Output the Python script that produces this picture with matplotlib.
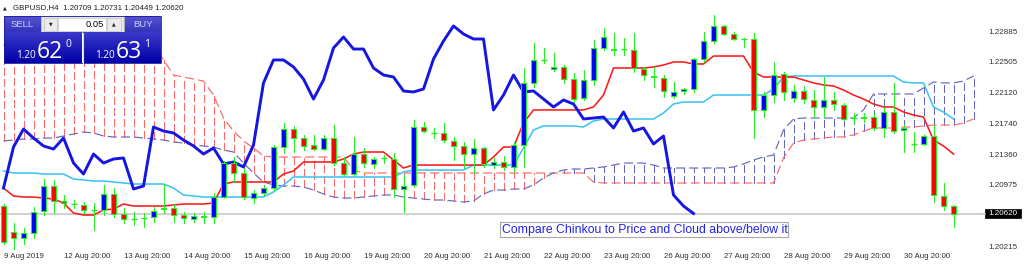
import matplotlib
matplotlib.use('Agg')
import matplotlib.pyplot as plt
from matplotlib.patches import Rectangle
import numpy as np

plt.rcParams['font.family'] = ['Liberation Sans', 'DejaVu Sans']
plt.rcParams['lines.scale_dashes'] = False

# ---------------- data (GBPUSD H4) ----------------
opens = [1.20713, 1.20390, 1.20315, 1.20378, 1.20651, 1.20962, 1.20776, 1.20738, 1.20726, 1.20664,
         1.20664, 1.20863, 1.20614, 1.20552, 1.20564, 1.20577, 1.20676, 1.20689, 1.20601, 1.20552,
         1.20589, 1.20577, 1.20825, 1.21248, 1.21124, 1.20813, 1.20875, 1.20937, 1.21447, 1.21671,
         1.21559, 1.21472, 1.21422, 1.21559, 1.21248, 1.21111, 1.21360, 1.21236, 1.21311, 1.21298,
         1.20925, 1.20975, 1.21696, 1.21622, 1.21622, 1.21522, 1.21460, 1.21360, 1.21435, 1.21223,
         1.21261, 1.21199, 1.21472, 1.22244, 1.22530, 1.22418, 1.22443, 1.22293, 1.22057, 1.22281,
         1.22679, 1.22654, 1.22666, 1.22654, 1.22418, 1.22331, 1.22306, 1.22082, 1.22144, 1.22169,
         1.22542, 1.22766, 1.22953, 1.22853, 1.22791, 1.22791, 1.21908, 1.22094, 1.22355, 1.22057,
         1.22144, 1.22032, 1.21945, 1.22032, 1.21970, 1.21808, 1.21808, 1.21820, 1.21684, 1.21883,
         1.21659, 1.21485, 1.21485, 1.21584, 1.20838, 1.20709]
highs = [1.20738, 1.20502, 1.20440, 1.20701, 1.21049, 1.21037, 1.20850, 1.20788, 1.20763, 1.20751,
         1.20975, 1.20937, 1.20689, 1.20639, 1.20626, 1.20701, 1.20987, 1.20738, 1.20639, 1.20626,
         1.20639, 1.20875, 1.21273, 1.21323, 1.21186, 1.20912, 1.20975, 1.21472, 1.21746, 1.21709,
         1.21597, 1.21597, 1.21597, 1.21721, 1.21323, 1.21572, 1.21435, 1.21323, 1.21348, 1.21373,
         1.21099, 1.21783, 1.21758, 1.21684, 1.21746, 1.21572, 1.21510, 1.21547, 1.21447, 1.21311,
         1.21335, 1.21510, 1.22430, 1.22741, 1.22679, 1.22617, 1.22467, 1.22368, 1.22405, 1.22778,
         1.22928, 1.22866, 1.22803, 1.22866, 1.22443, 1.22443, 1.22343, 1.22256, 1.22181, 1.22555,
         1.22878, 1.23089, 1.22965, 1.22878, 1.22803, 1.22866, 1.22132, 1.22505, 1.22380, 1.22219,
         1.22206, 1.22156, 1.22318, 1.22132, 1.21995, 1.21870, 1.21870, 1.21870, 1.21945, 1.22244,
         1.21721, 1.21634, 1.21597, 1.21721, 1.21000, 1.20731]
lows = [1.20240, 1.20141, 1.20240, 1.20315, 1.20601, 1.20626, 1.20689, 1.20689, 1.20626, 1.20415,
        1.20601, 1.20577, 1.20502, 1.20477, 1.20452, 1.20514, 1.20626, 1.20514, 1.20502, 1.20514,
        1.20502, 1.20502, 1.20813, 1.21012, 1.20800, 1.20751, 1.20850, 1.20912, 1.21373, 1.21385,
        1.21410, 1.21410, 1.21410, 1.21223, 1.21099, 1.21099, 1.21199, 1.21186, 1.21248, 1.20825,
        1.20639, 1.20950, 1.21634, 1.21559, 1.21510, 1.21286, 1.21186, 1.21124, 1.21199, 1.21186,
        1.21161, 1.21136, 1.21199, 1.22194, 1.22492, 1.22393, 1.22244, 1.22007, 1.22032, 1.22219,
        1.22654, 1.22592, 1.22592, 1.22380, 1.22281, 1.22194, 1.22069, 1.22057, 1.22107, 1.22132,
        1.22505, 1.22741, 1.22841, 1.22778, 1.22691, 1.21559, 1.21820, 1.22007, 1.22032, 1.22007,
        1.21995, 1.21820, 1.21820, 1.21908, 1.21783, 1.21746, 1.21758, 1.21659, 1.21572, 1.21622,
        1.21385, 1.21385, 1.21472, 1.20763, 1.20664, 1.20449]
closes = [1.20265, 1.20315, 1.20378, 1.20639, 1.20962, 1.20776, 1.20751, 1.20738, 1.20664, 1.20664,
          1.20863, 1.20614, 1.20552, 1.20552, 1.20564, 1.20651, 1.20689, 1.20601, 1.20564, 1.20589,
          1.20577, 1.20825, 1.21248, 1.21124, 1.20825, 1.20875, 1.20937, 1.21447, 1.21671, 1.21559,
          1.21460, 1.21422, 1.21559, 1.21248, 1.21111, 1.21360, 1.21248, 1.21298, 1.21311, 1.20925,
          1.20962, 1.21696, 1.21646, 1.21622, 1.21534, 1.21460, 1.21360, 1.21435, 1.21236, 1.21261,
          1.21199, 1.21472, 1.22244, 1.22530, 1.22530, 1.22443, 1.22293, 1.22044, 1.22281, 1.22679,
          1.22816, 1.22666, 1.22666, 1.22430, 1.22343, 1.22318, 1.22144, 1.22132, 1.22169, 1.22542,
          1.22766, 1.22953, 1.22853, 1.22791, 1.22791, 1.21908, 1.22094, 1.22343, 1.22132, 1.22144,
          1.22044, 1.21945, 1.22032, 1.21982, 1.21796, 1.21808, 1.21820, 1.21684, 1.21883, 1.21646,
          1.21684, 1.21485, 1.21584, 1.20850, 1.20713, 1.20620]

tenkan = [1.20937, 1.20838, 1.20825, 1.20825, 1.20813, 1.20800, 1.20751, 1.20626, 1.20601, 1.20601,
          1.20664, 1.20676, 1.20738, 1.20713, 1.20713, 1.20713, 1.20713, 1.20726, 1.20738, 1.20738,
          1.20738, 1.20751, 1.20987, 1.21012, 1.21012, 1.21012, 1.21012, 1.21012, 1.21111, 1.21149,
          1.21261, 1.21261, 1.21261, 1.21261, 1.21298, 1.21360, 1.21385, 1.21385, 1.21385, 1.21286,
          1.21186, 1.21223, 1.21223, 1.21223, 1.21223, 1.21223, 1.21223, 1.21223, 1.21223, 1.21323,
          1.21447, 1.21447, 1.21746, 1.21908, 1.21908, 1.21908, 1.21908, 1.21908, 1.21908, 1.21945,
          1.22094, 1.22430, 1.22430, 1.22430, 1.22430, 1.22443, 1.22467, 1.22505, 1.22505, 1.22480,
          1.22480, 1.22579, 1.22579, 1.22579, 1.22579, 1.22380, 1.22318, 1.22318, 1.22318, 1.22318,
          1.22281, 1.22244, 1.22219, 1.22206, 1.22156, 1.22094, 1.22044, 1.21982, 1.21945, 1.21945,
          1.21883, 1.21845, 1.21820, 1.21534, 1.21460, 1.21360]
kijun = [1.21149, 1.21124, 1.21124, 1.21124, 1.21111, 1.21111, 1.21111, 1.21049, 1.21037, 1.21024,
         1.21024, 1.21012, 1.21000, 1.20987, 1.20987, 1.20987, 1.20987, 1.20937, 1.20850, 1.20838,
         1.20825, 1.20825, 1.20825, 1.20825, 1.20825, 1.20825, 1.20825, 1.20888, 1.20975, 1.21074,
         1.21074, 1.21074, 1.21074, 1.21074, 1.21074, 1.21074, 1.21074, 1.21074, 1.21074, 1.21074,
         1.21136, 1.21161, 1.21161, 1.21161, 1.21161, 1.21161, 1.21161, 1.21223, 1.21223, 1.21223,
         1.21223, 1.21223, 1.21435, 1.21659, 1.21709, 1.21709, 1.21709, 1.21709, 1.21696, 1.21771,
         1.21796, 1.21796, 1.21796, 1.21796, 1.21796, 1.21796, 1.21870, 1.21982, 1.22007, 1.22007,
         1.22007, 1.22094, 1.22094, 1.22094, 1.22094, 1.22094, 1.22094, 1.22169, 1.22318, 1.22331,
         1.22331, 1.22331, 1.22331, 1.22331, 1.22331, 1.22331, 1.22331, 1.22331, 1.22331, 1.22331,
         1.22256, 1.22244, 1.22244, 1.21945, 1.21883, 1.21796]
span_a = [1.22716] * 16 + [
          1.22530, 1.22343, 1.22318, 1.22293, 1.22268, 1.22094, 1.21808, 1.21646, 1.21522, 1.21435,
          1.21335, 1.21323, 1.21323, 1.21323, 1.21323, 1.21323, 1.21323, 1.21323, 1.21323, 1.21161,
          1.21124, 1.21124, 1.21124, 1.21124, 1.21124, 1.21124, 1.21124, 1.21124, 1.21124, 1.21124,
          1.21124, 1.21124, 1.21124, 1.21124, 1.21124, 1.21124, 1.21124, 1.21124, 1.21124, 1.21124,
          1.21124, 1.21124, 1.21124, 1.21012, 1.21000, 1.21000, 1.21000, 1.21000, 1.21000, 1.21000,
          1.21000, 1.21000, 1.21000, 1.21000, 1.21000, 1.21000, 1.21000, 1.21000, 1.21000, 1.21000,
          1.21000, 1.21000, 1.21311, 1.21497, 1.21534, 1.21547, 1.21559, 1.21572, 1.21572, 1.21597,
          1.21646, 1.21684, 1.21684, 1.21684, 1.21696, 1.21696, 1.21709, 1.21721, 1.21721, 1.21721,
          1.21746, 1.21796]
span_b = [1.21522, 1.21534, 1.21547, 1.21547, 1.21559, 1.21559, 1.21584, 1.21609, 1.21634, 1.21622,
          1.21584, 1.21572, 1.21572, 1.21572, 1.21559, 1.21547, 1.21534, 1.21510, 1.21497, 1.21472,
          1.21460, 1.21447, 1.21410, 1.21385, 1.21248, 1.21124, 1.21012, 1.20975, 1.20962, 1.20962,
          1.20950, 1.20912, 1.20863, 1.20825, 1.20813, 1.20813, 1.20825, 1.20838, 1.20850, 1.20850,
          1.20825, 1.20813, 1.20800, 1.20788, 1.20788, 1.20776, 1.20763, 1.20776, 1.20863, 1.20912,
          1.20912, 1.20925, 1.20925, 1.20975, 1.21062, 1.21124, 1.21161, 1.21174, 1.21174, 1.21186,
          1.21199, 1.21223, 1.21248, 1.21248, 1.21248, 1.21223, 1.21186, 1.21186, 1.21186, 1.21186,
          1.21186, 1.21186, 1.21186, 1.21199, 1.21236, 1.21286, 1.21323, 1.21348, 1.21659, 1.21796,
          1.21808, 1.21808, 1.21808, 1.21808, 1.21808, 1.21808, 1.21908, 1.22107, 1.22107, 1.22107,
          1.22107, 1.22107, 1.22181, 1.22256, 1.22244, 1.22244, 1.22268, 1.22331]

date_labels = ['9 Aug 2019', '12 Aug 20:00', '13 Aug 20:00', '14 Aug 20:00', '15 Aug 20:00',
               '16 Aug 20:00', '19 Aug 20:00', '20 Aug 20:00', '21 Aug 20:00', '22 Aug 20:00',
               '23 Aug 20:00', '26 Aug 20:00', '27 Aug 20:00', '28 Aug 20:00', '29 Aug 20:00',
               '30 Aug 20:00']
price_labels = [1.22885, 1.22505, 1.22120, 1.21740, 1.21360, 1.20975, 1.20215]
bid = 1.20620
chinkou_shift = 26

# ---------------- figure ----------------
W, H = 1024, 273
fig = plt.figure(figsize=(W / 100, H / 100), dpi=100)
fig.patch.set_facecolor('white')
PX_R, PX_B = 977, 250
ax = fig.add_axes([0, 1 - PX_B / H, PX_R / W, PX_B / H])
ax.set_facecolor('white')
ax.set_xlim(-0.35, 97.35)
ax.set_ylim(1.20166, 1.23276)
for s in ax.spines.values():
    s.set_visible(False)

RED_H = '#FF6666'
BLUE_H = '#6666C0'
ONE_PX = 0.72
dash_v = (0, (5.6, 2.4))
dash_l = (0, (6.5, 3.0))

# cloud hatch
ci = np.arange(len(span_a))
sa = np.array(span_a)
sb = np.array(span_b)
for i in ci:
    col = RED_H if sa[i] >= sb[i] else BLUE_H
    ax.vlines(i, min(sa[i], sb[i]), max(sa[i], sb[i]), colors=col, linestyles=dash_v,
              lw=ONE_PX, zorder=1, antialiased=False)
ax.plot(ci, sa, color=RED_H, ls=dash_l, lw=0.85, zorder=1.5)
ax.plot(ci, sb, color=BLUE_H, ls=dash_l, lw=0.85, zorder=1.5)

# bid line
ax.axhline(bid, color='#C4C4C4', lw=1.1, zorder=2)

idx = np.arange(len(closes))
ax.plot(idx, kijun, color='#3EC3F2', lw=1.15, zorder=3)
ax.plot(idx, tenkan, color='#FF1A1A', lw=1.15, zorder=3)
ch = closes[chinkou_shift:]
ax.plot(idx[:len(ch)], ch, color='#1616E0', lw=2.1, zorder=3.5)

# candles
LIME = '#22EE22'
for i, (o, h, l, c) in enumerate(zip(opens, highs, lows, closes)):
    ax.vlines(i, l, h, colors=LIME, lw=ONE_PX, zorder=5, antialiased=False)
    if abs(c - o) < 1e-7:
        ax.hlines(o, i - 0.3, i + 0.3, colors=LIME, lw=1.0, zorder=6)
    else:
        fc = '#0000FF' if c > o else '#FF0000'
        ax.add_patch(Rectangle((i - 0.27, min(o, c)), 0.54, abs(c - o), facecolor=fc,
                               edgecolor=LIME, lw=0.8, zorder=6))

# axes ticks
ax.set_xticks(np.arange(0, 6 * len(date_labels), 6))
ax.set_xticklabels(date_labels, ha='left', fontsize=5.7, color='#303030')
ax.yaxis.tick_right()
ax.set_yticks(price_labels)
ax.set_yticklabels(['%.5f' % v for v in price_labels], fontsize=5.8, color='#303030')
ax.tick_params(axis='both', length=0)
ax.tick_params(axis='y', pad=8.5)
ax.tick_params(axis='x', pad=2.5)

# ---------------- overlay (pixel coordinates) ----------------
ov = fig.add_axes([0, 0, 1, 1])
ov.set_xlim(0, W)
ov.set_ylim(H, 0)
ov.axis('off')

# bid extension and label
ov.plot([PX_R, 985], [213.5, 213.5], color='#C4C4C4', lw=1.1)
ov.add_patch(Rectangle((985, 209), 36, 9, facecolor='black', edgecolor='black', lw=0.5))
ov.text(988, 213.7, '%.5f' % bid, color='white', fontsize=5.8, va='center', ha='left')

# header
ov.text(3, 7.5, '\u25B2', fontsize=3.5, va='center', ha='left', color='#202020', family='DejaVu Sans')
ov.text(13, 7.5, 'GBPUSD,H4  1.20709 1.20731 1.20449 1.20620', fontsize=5.7, va='center',
        ha='left', color='#202020')

# one-click trading panel
def grad(x0, x1, y0, y1, ctop, cbot):
    t = np.linspace(0, 1, 40)[:, None, None]
    a = np.array(matplotlib.colors.to_rgb(ctop))[None, None, :]
    b = np.array(matplotlib.colors.to_rgb(cbot))[None, None, :]
    img = a * (1 - t) + b * t
    img = np.repeat(img, 2, axis=1)
    ov.imshow(img, extent=(x0, x1, y1, y0), aspect='auto', zorder=10, interpolation='bilinear')

grad(4, 41, 16, 32, '#5454D0', '#3434BC')
grad(124, 161, 16, 32, '#5454D0', '#3434BC')
ov.add_patch(Rectangle((41, 16), 83, 16, facecolor='#E6E6E6', edgecolor='#B0B0B0', lw=0.6, zorder=10))
ov.add_patch(Rectangle((58, 17.5), 48, 13, facecolor='white', edgecolor='#C8C8C8', lw=0.5, zorder=11))
ov.add_patch(Rectangle((44, 17.5), 13, 13, facecolor='#ECECEC', edgecolor='#C0C0C0', lw=0.5, zorder=11))
ov.add_patch(Rectangle((107, 17.5), 14, 13, facecolor='#ECECEC', edgecolor='#C0C0C0', lw=0.5, zorder=11))
ov.text(50.5, 24, '\u25BC', fontsize=3.3, ha='center', va='center', color='#202020', zorder=12,
        family='DejaVu Sans')
ov.text(114, 24, '\u25B2', fontsize=3.3, ha='center', va='center', color='#202020', zorder=12,
        family='DejaVu Sans')
ov.text(104, 24.3, '0.05', fontsize=6.8, ha='right', va='center', color='#101010', zorder=12)
ov.text(22.5, 24.3, 'SELL', fontsize=6.8, ha='center', va='center', color='#C8D0F4', zorder=12)
ov.text(142.5, 24.3, 'BUY', fontsize=6.8, ha='center', va='center', color='#C8D0F4', zorder=12)

grad(4, 82, 32.5, 63, '#3A3ACC', '#0000A6')
grad(83, 161, 32.5, 63, '#3A3ACC', '#0000A6')
ov.add_patch(Rectangle((4, 16), 157, 47, facecolor='none', edgecolor='#1A1A9A', lw=0.6, zorder=12))
ov.plot([82.5, 82.5], [32.5, 63], color='#D8D8F0', lw=0.8, zorder=12)

for x0, big, sup in [(16, '62', '0'), (95, '63', '1')]:
    ov.text(x0, 57.5, '1.20', fontsize=7.2, ha='left', va='baseline', color='white', zorder=13,
            family='Open Sans')
    ov.text(x0 + 21, 57.5, big, fontsize=16.5, ha='left', va='baseline', color='white', zorder=13,
            family='Open Sans')
    ov.text(x0 + 49, 47, sup, fontsize=7.5, ha='left', va='baseline', color='white', zorder=13,
            family='Open Sans')

# annotation box
ov.add_patch(Rectangle((500, 222), 288, 15, facecolor='white', edgecolor='#A8A8A8', lw=0.8, zorder=10))
ov.text(502, 229.8, 'Compare Chinkou to Price and Cloud above/below it', fontsize=8.8,
        ha='left', va='center', color='#2222E6', zorder=11)

ov.set_xlim(0, W)
ov.set_ylim(H, 0)
fig.savefig('out.png', dpi=100, facecolor='white')
